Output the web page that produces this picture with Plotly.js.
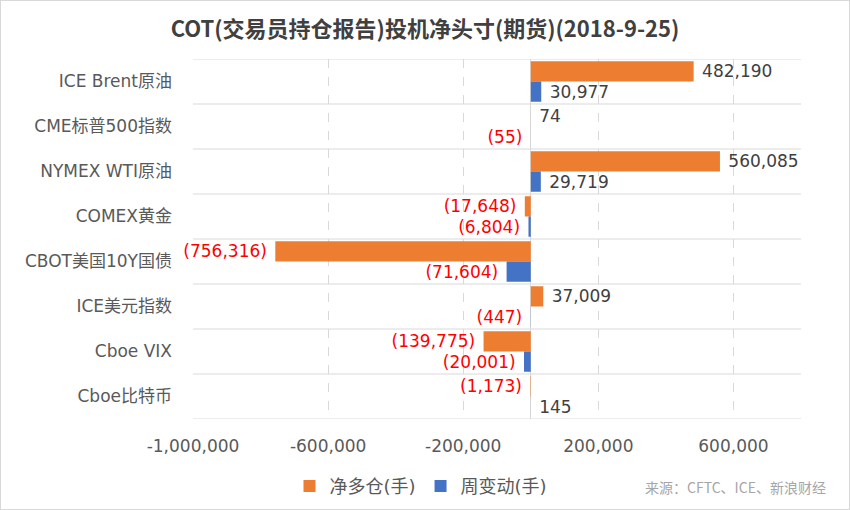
<!DOCTYPE html>
<html>
<head>
<meta charset="utf-8">
<script src="https://cdn.plot.ly/plotly-3.0.1.min.js"></script>
<style>
  body { margin: 0; background: #fff; }
  #chart { width: 850px; height: 510px; box-sizing: border-box; border: 1px solid #d9d9d9; }
</style>
</head>
<body>
<div id="chart"></div>
<script>
// categories top to bottom
var categories = ['ICE Brent原油', 'CME标普500指数', 'NYMEX WTI原油', 'COMEX黄金',
  'CBOT美国10Y国债', 'ICE美元指数', 'Cboe VIX', 'Cboe比特币'];

// 净多仓(手)
var netLong = [482190, 74, 560085, -17648, -756316, 37009, -139775, -1173];
// 周变动(手)
var weekChange = [30977, -55, 29719, -6804, -71604, -447, -20001, 145];

var tickVals = [-1000000, -600000, -200000, 200000, 600000];
var tickText = ['-1,000,000', '-600,000', '-200,000', '200,000', '600,000'];

var FONT = '"DejaVu Sans", "Noto Sans CJK SC", sans-serif';
var CJK = '"Noto Sans CJK SC", "Noto Sans", sans-serif';

// excel style labels: negatives in brackets, a little gap from the bar end
function fmt(v) {
  var s = Math.abs(v).toLocaleString('en-US');
  return v < 0 ? '(' + s + ')\u00a0' : '\u00a0' + s;
}
function labelColors(arr) {
  return arr.map(function (v) { return v < 0 ? '#ff0000' : '#404040'; });
}

var trace1 = {
  type: 'bar',
  orientation: 'h',
  name: '净多仓(手)',
  y: categories,
  x: netLong,
  text: netLong.map(fmt),
  textposition: 'outside',
  textfont: { family: FONT, size: 17, color: labelColors(netLong) },
  constraintext: 'none',
  cliponaxis: false,
  marker: { color: '#ed7d31' }
};

var trace2 = {
  type: 'bar',
  orientation: 'h',
  name: '周变动(手)',
  y: categories,
  x: weekChange,
  text: weekChange.map(fmt),
  textposition: 'outside',
  textfont: { family: FONT, size: 17, color: labelColors(weekChange) },
  constraintext: 'none',
  cliponaxis: false,
  marker: { color: '#4472c4' }
};

// separator lines between the categories
var shapes = [];
for (var i = 0; i <= categories.length; i++) {
  shapes.push({
    type: 'line', layer: 'below',
    xref: 'paper', x0: 0, x1: 1,
    yref: 'y', y0: i - 0.5, y1: i - 0.5,
    line: { color: '#d9d9d9', width: 1 }
  });
}

var layout = {
  width: 848,
  height: 508,
  margin: { l: 192, r: 48, t: 58, b: 90, autoexpand: false },
  paper_bgcolor: '#ffffff',
  plot_bgcolor: '#ffffff',
  font: { family: FONT, color: '#595959' },
  barmode: 'group',
  bargap: 0.1,
  bargroupgap: 0,
  showlegend: true,
  title: {
    text: 'COT(交易员持仓报告)投机净头寸(期货)(2018-9-25)',
    font: { family: CJK, size: 22, color: '#404040', weight: 'bold' },
    x: 0.5, xanchor: 'center',
    y: 0.945, yanchor: 'middle', yref: 'container'
  },
  xaxis: {
    range: [-1000000, 800000],
    tickvals: tickVals,
    ticktext: tickText,
    tickfont: { family: FONT, size: 17, color: '#595959' },
    showgrid: true,
    gridcolor: '#d9d9d9',
    griddash: 'dash',
    zeroline: true,
    zerolinecolor: '#d9d9d9',
    zerolinewidth: 1,
    showline: false,
    ticks: '',
    ticklabelstandoff: 15,
    fixedrange: true
  },
  yaxis: {
    type: 'category',
    range: [categories.length - 0.5, -0.5],
    tickfont: { family: FONT, size: 17, color: '#595959' },
    showgrid: false,
    zeroline: false,
    showline: false,
    ticks: '',
    ticklabelstandoff: 20,
    fixedrange: true
  },
  legend: {
    orientation: 'h',
    x: 0.375, xanchor: 'center',
    y: -0.187, yanchor: 'middle',
    font: { family: FONT, size: 18, color: '#595959' },
    itemwidth: 30,
    traceorder: 'normal'
  },
  shapes: shapes,
  annotations: [{
    text: '来源：CFTC、ICE、新浪财经',
    xref: 'paper', yref: 'paper',
    x: 1.045, xanchor: 'right',
    y: -0.19, yanchor: 'middle',
    showarrow: false,
    font: { family: CJK, size: 14, color: '#a6a6a6' }
  }]
};

Plotly.newPlot('chart', [trace1, trace2], layout, { displayModeBar: false, staticPlot: true });
</script>
</body>
</html>
